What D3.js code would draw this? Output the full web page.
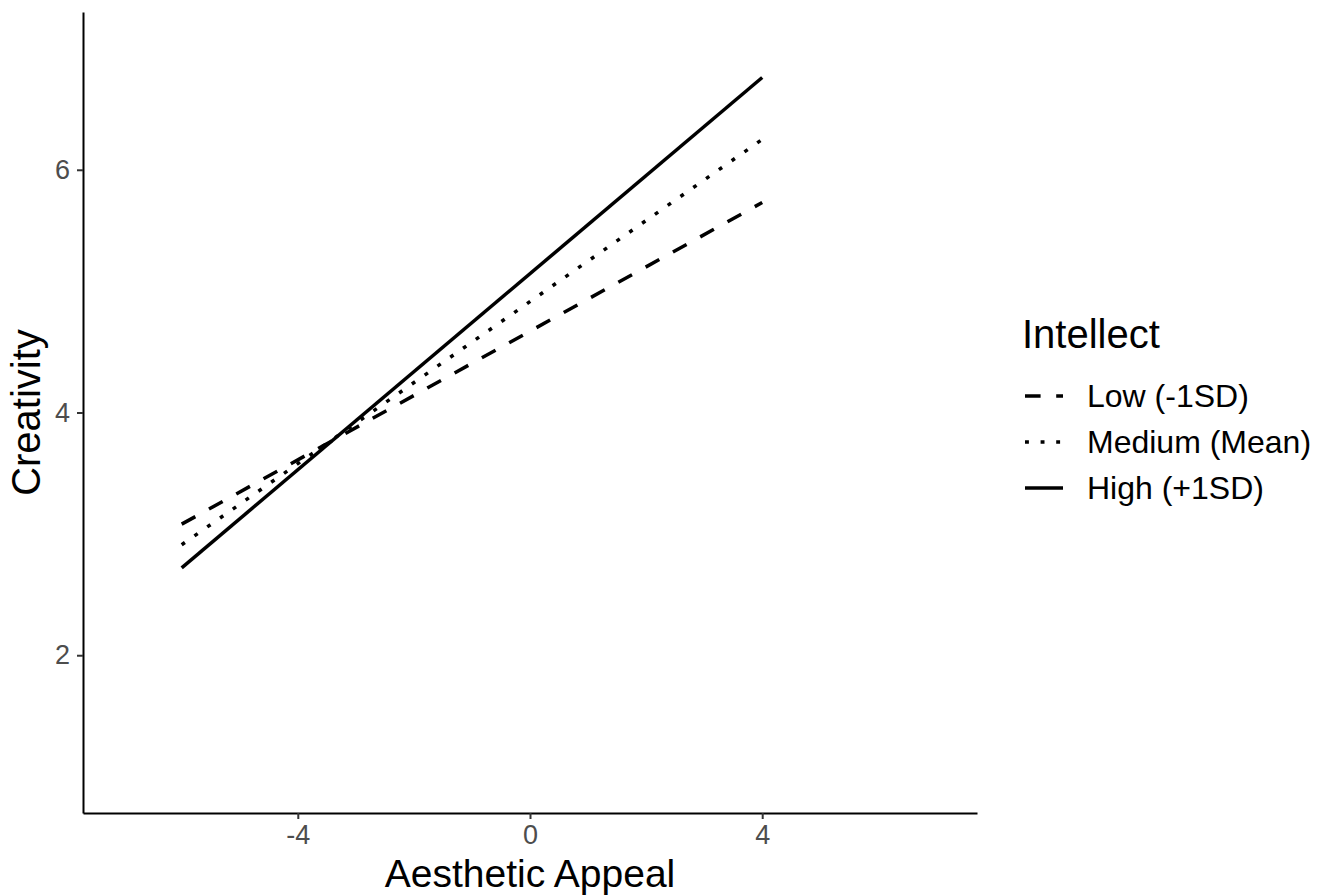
<!DOCTYPE html>
<html>
<head>
<meta charset="utf-8">
<script src="https://cdn.jsdelivr.net/npm/d3@7"></script>
<style>
  body { margin: 0; background: #fff; }
  svg { font-family: "Liberation Sans", Arial, sans-serif; }
</style>
</head>
<body>
<div id="chart"></div>
<script>
const width = 1330;
const height = 895;
const margin = ({top: 12, right: 353, bottom: 82, left: 83});

// predicted creativity at the ends of the aesthetic appeal range
const xValues = [-6, 4];
const lowValues = [3.08, 5.73];
const mediumValues = [2.91, 6.25];
const highValues = [2.72, 6.76];

const groups = ["Low (-1SD)", "Medium (Mean)", "High (+1SD)"];
const groupValues = [lowValues, mediumValues, highValues];
const dashes = ["15.6,15.6", "3.9,11.7", null];

const xTicks = [-4, 0, 4];
const yTicks = [2, 4, 6];

const svg = d3.select("#chart").append("svg")
  .attr("width", width)
  .attr("height", height);

const x = d3.scaleLinear()
  .domain([-7.7, 7.7])
  .range([margin.left, width - margin.right]);

const y = d3.scaleLinear()
  .domain([0.7, 7.3])
  .range([height - margin.bottom, margin.top]);

const series = groups.map((g, i) => ({
  name: g,
  dash: dashes[i],
  points: xValues.map((xv, j) => ({x: xv, y: groupValues[i][j]}))
}));

const line = d3.line()
  .x(d => x(d.x))
  .y(d => y(d.y));

svg.append("g")
  .selectAll("path")
  .data(series)
  .join("path")
    .attr("d", d => line(d.points))
    .attr("fill", "none")
    .attr("stroke", "#000")
    .attr("stroke-width", 3.5)
    .attr("stroke-dasharray", d => d.dash);

const fmt = d => String(d);

const xAxis = g => g
  .attr("transform", `translate(0,${height - margin.bottom})`)
  .call(d3.axisBottom(x).tickValues(xTicks).tickFormat(fmt).tickSize(6).tickPadding(6).tickSizeOuter(0))
  .call(g => g.select(".domain").attr("stroke", "#000").attr("stroke-width", 2))
  .call(g => g.selectAll(".tick line").attr("stroke", "#333").attr("stroke-width", 2))
  .call(g => g.selectAll(".tick text")
    .attr("fill", "#4d4d4d")
    .attr("font-size", 27)
    .attr("font-family", "Liberation Sans, Arial, sans-serif"));

const yAxis = g => g
  .attr("transform", `translate(${margin.left},0)`)
  .call(d3.axisLeft(y).tickValues(yTicks).tickFormat(fmt).tickSize(6).tickPadding(7).tickSizeOuter(0))
  .call(g => g.select(".domain").attr("stroke", "#000").attr("stroke-width", 2))
  .call(g => g.selectAll(".tick line").attr("stroke", "#333").attr("stroke-width", 2))
  .call(g => g.selectAll(".tick text")
    .attr("fill", "#4d4d4d")
    .attr("font-size", 27)
    .attr("font-family", "Liberation Sans, Arial, sans-serif"));

svg.append("g").call(xAxis);
svg.append("g").call(yAxis);

svg.append("text")
  .attr("x", x(0))
  .attr("y", 886.5)
  .attr("text-anchor", "middle")
  .attr("font-size", 39)
  .text("Aesthetic Appeal");

svg.append("text")
  .attr("transform", `translate(40,${y(4)}) rotate(-90)`)
  .attr("text-anchor", "middle")
  .attr("font-size", 40)
  .text("Creativity");

// legend
const legend = svg.append("g")
  .attr("transform", "translate(1022,0)");

legend.append("text")
  .attr("x", 0)
  .attr("y", 348)
  .attr("font-size", 40)
  .text("Intellect");

const item = legend.selectAll("g.item")
  .data(series)
  .join("g")
    .attr("class", "item")
    .attr("transform", (d, i) => `translate(0,${396 + i * 46})`);

item.append("line")
  .attr("x1", 3)
  .attr("x2", 41)
  .attr("stroke", "#000")
  .attr("stroke-width", 3.5)
  .attr("stroke-dasharray", d => d.dash);

item.append("text")
  .attr("x", 65)
  .attr("dy", "0.35em")
  .attr("font-size", 32)
  .text(d => d.name);
</script>
</body>
</html>
